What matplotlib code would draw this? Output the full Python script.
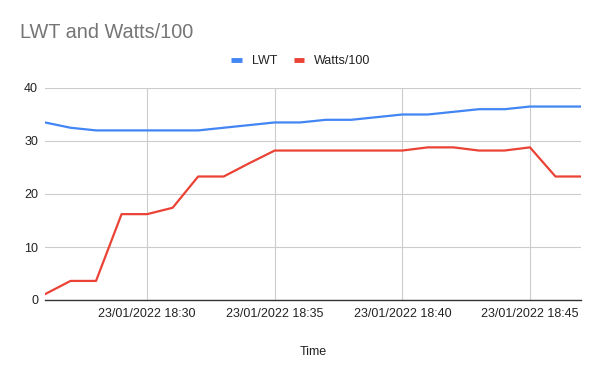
import matplotlib
matplotlib.use("Agg")
import matplotlib.pyplot as plt
import matplotlib.dates as mdates
from matplotlib.lines import Line2D
import pandas as pd

plt.rcParams['font.family'] = ['Liberation Sans', 'DejaVu Sans']

times = ["18:26", "18:27", "18:28", "18:29", "18:30", "18:31", "18:32", "18:33",
         "18:34", "18:35", "18:36", "18:37", "18:38", "18:39", "18:40", "18:41",
         "18:42", "18:43", "18:44", "18:45", "18:46", "18:47"]
lwt = [33.5, 32.5, 32.0, 32.0, 32.0, 32.0, 32.0, 32.5, 33.0, 33.5, 33.5, 34.0,
       34.0, 34.5, 35.0, 35.0, 35.5, 36.0, 36.0, 36.5, 36.5, 36.5]
watts100 = [1.1, 3.6, 3.6, 16.2, 16.2, 17.4, 23.3, 23.3, 25.8, 28.2, 28.2, 28.2,
            28.2, 28.2, 28.2, 28.8, 28.8, 28.2, 28.2, 28.8, 23.3, 23.3]
series_names = ["LWT", "Watts/100"]
colors = ["#4285F4", "#EA4335"]
yticks = [0, 10, 20, 30, 40]
title = "LWT and Watts/100"
xlabel = "Time"

t = pd.to_datetime(["2022-01-23 " + s for s in times])

fig = plt.figure(figsize=(6.0, 3.71), dpi=100)
ax = fig.add_axes([45/600, 1 - 300/371, (581 - 45)/600, (300 - 88)/371])

for vals, c in zip([lwt, watts100], colors):
    ax.plot(t, vals, color=c, lw=1.6, solid_joinstyle='round', zorder=3)

ax.set_xlim(t[0], t[-1])
ax.set_ylim(0, 40)
ax.set_yticks(yticks)
ax.xaxis.set_major_locator(mdates.MinuteLocator(byminute=[30, 35, 40, 45]))
ax.xaxis.set_major_formatter(mdates.DateFormatter('%d/%m/%Y %H:%M'))
ax.grid(True, color="#cccccc", lw=0.8, zorder=0)
ax.set_axisbelow(True)
for s in ['top', 'right', 'left']:
    ax.spines[s].set_visible(False)
ax.spines['bottom'].set_color('#333333')
ax.spines['bottom'].set_linewidth(1.0)
ax.spines['bottom'].set_zorder(4)
ax.tick_params(axis='both', length=0, labelsize=9, labelcolor='#222222')
ax.tick_params(axis='y', pad=5)
ax.tick_params(axis='x', pad=5.5)

fig.text(20/600, 1 - 38/371, title, fontsize=14.3, color='#757575', va='baseline', ha='left')
fig.text(313/600, 1 - 352/371, xlabel, fontsize=9, color='#222222', ha='center', va='center')

handles = [Line2D([0], [0], color=c, lw=3.5, solid_capstyle='butt') for c in colors]
fig.legend(handles, series_names, loc='center', bbox_to_anchor=(301/600, 1 - 61/371),
           ncol=2, frameon=False, fontsize=9, handlelength=0.85, handletextpad=0.8,
           columnspacing=1.3, labelcolor='#222222')

fig.savefig("out.png", dpi=100)
